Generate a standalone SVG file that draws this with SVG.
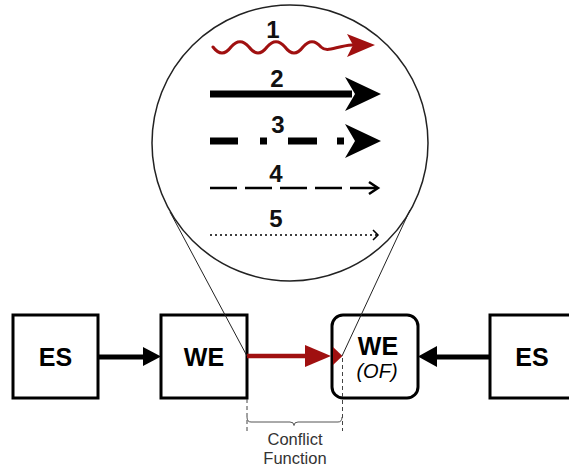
<svg xmlns="http://www.w3.org/2000/svg" width="569" height="469" viewBox="0 0 569 469">
<style>
.box{fill:#fff;stroke:#000;stroke-width:3}
.lbl{font-family:"Liberation Sans",Arial,sans-serif;font-weight:bold;font-size:25px;text-anchor:middle;fill:#000}
.num{font-family:"Liberation Sans",Arial,sans-serif;font-weight:bold;font-size:24px;text-anchor:middle;fill:#111}
.cf{font-family:"Liberation Sans",Arial,sans-serif;font-size:16.5px;text-anchor:middle;fill:#333}
.thin{stroke:#222;stroke-width:1;fill:none}
</style>
<rect width="569" height="469" fill="#fff"/>
<g id="zoom-lens">
<circle cx="290" cy="143" r="138" fill="#fff" stroke="#222" stroke-width="1.5"/>
</g>
<g id="node-es-left"><rect class="box" x="13" y="315" width="85" height="83"/><text class="lbl" x="55.5" y="366">ES</text></g>
<g id="node-we-left"><rect class="box" x="161" y="315" width="86" height="83"/><text class="lbl" x="204" y="366">WE</text></g>
<g id="node-we-of"><rect class="box" x="332" y="315" width="86" height="83" rx="11"/><text class="lbl" x="378" y="355">WE</text><text x="377" y="378" font-family="Liberation Sans,Arial,sans-serif" font-style="italic" font-size="20" text-anchor="middle">(OF)</text></g>
<g id="node-es-right"><rect class="box" x="490" y="315" width="90" height="83"/><text class="lbl" x="532" y="366">ES</text></g>
<g id="connectors">
<line x1="98" y1="357" x2="146" y2="357" stroke="#000" stroke-width="5"/>
<polygon points="143,347 161,356.5 143,366" fill="#000"/>
<line x1="489" y1="357" x2="434" y2="357" stroke="#000" stroke-width="5"/>
<polygon points="437,346 418,356.5 437,367" fill="#000"/>
<line x1="247" y1="356" x2="308" y2="356" stroke="#a01010" stroke-width="4.5"/>
<polygon points="305,345 331,356 305,367" fill="#a01010"/>
<polygon points="333,347 342.5,356 333,365" fill="#a01010"/>
<line class="thin" x1="170" y1="212" x2="247" y2="356"/>
<line class="thin" x1="410" y1="210" x2="342" y2="356"/>
<line x1="247" y1="399" x2="247" y2="431" stroke="#444" stroke-width="1" stroke-dasharray="4 3"/>
<line x1="342.5" y1="358" x2="342.5" y2="431" stroke="#444" stroke-width="1" stroke-dasharray="4 3"/>
<path d="M247,417 Q247,422 251,422 L290,422 Q294,422 294,425.5 Q294,422 298,422 L338,422 Q342,422 342,417" fill="none" stroke="#555" stroke-width="1"/>
</g>
<g id="legend">
<path d="M213,47 C219,55 225,55 231,47 C237,40 243,40 249,47 C255,55 261,55 267,47 C273,40 279,40 285,47 C291,55 297,55 303,47 C309,40 315,40 321,47 C327,53 336,46 352,45" fill="none" stroke="#a01010" stroke-width="3" stroke-linecap="round"/>
<polygon points="347,34 375,45 347,57 353,45" fill="#a01010"/>
<text class="num" x="273" y="38">1</text>
<line x1="210" y1="94" x2="352" y2="94" stroke="#000" stroke-width="7"/>
<polygon points="345,77 381,94 345,111 355,94" fill="#000"/>
<text class="num" x="277" y="87">2</text>
<line x1="210" y1="141" x2="344" y2="141" stroke="#000" stroke-width="7" stroke-dasharray="28 22 7 21 29 20 7 100"/>
<polygon points="345,124 381,141 345,158 355,141" fill="#000"/>
<text class="num" x="278" y="133">3</text>
<line x1="210" y1="188" x2="377" y2="188" stroke="#000" stroke-width="2.5" stroke-dasharray="27 8"/>
<polyline points="369,182 378,188 369,194" fill="none" stroke="#000" stroke-width="2.5"/>
<text class="num" x="276" y="182">4</text>
<line x1="210" y1="235" x2="377" y2="235" stroke="#000" stroke-width="1.5" stroke-dasharray="2 3"/>
<polyline points="373,230 378,235 373,240" fill="none" stroke="#000" stroke-width="1.5"/>
<text class="num" x="276" y="227">5</text>
</g>
<g id="caption">
<text class="cf" x="295" y="445">Conflict</text>
<text class="cf" x="295" y="464">Function</text>
</g>
</svg>
